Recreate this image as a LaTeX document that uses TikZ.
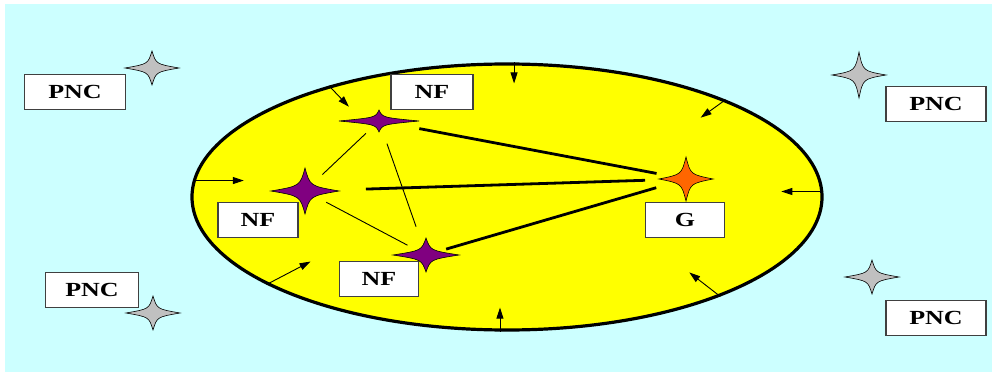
\documentclass[tikz,border=0pt]{standalone}
\usepackage{fontspec}
\usepackage{tikz}
\usepackage{xcolor}
\usetikzlibrary{positioning,shapes,shapes.geometric,arrows.meta}

\newfontfamily\boxfont{Liberation Serif}[FakeStretch=1.3]

\definecolor{cellbg}{RGB}{204,255,255}
\definecolor{cellyellow}{RGB}{255,255,0}
\definecolor{nfpurple}{RGB}{128,0,128}
\definecolor{gorange}{RGB}{255,102,0}
\definecolor{pncgray}{RGB}{192,192,192}

\tikzset{
  star4/.style={draw=black, line width=0.6pt},
  labelbox/.style={draw=black!75, fill=white, line width=1.2pt, shape=rectangle,
    inner sep=0pt, minimum height=35pt,
    font=\boxfont\bfseries\fontsize{20}{22}\selectfont},
  thickline/.style={line width=2.8pt},
  thinline/.style={line width=0.9pt},
  inarrow/.style={line width=0.9pt, -{Triangle[length=11pt,width=7pt]}}
}

% name, centre, half width, half height, waist, colour
\newcommand{\fourstar}[6]{%
  \coordinate (#1) at (#2);
  \begin{scope}[shift={(#2)}]
    \filldraw[star4, fill=#6] (#3,0) .. controls (#5,#5) .. (0,#4)
      .. controls (-#5,#5) .. (-#3,0) .. controls (-#5,-#5) .. (0,-#4)
      .. controls (#5,-#5) .. cycle;
  \end{scope}}

\begin{document}
\begin{tikzpicture}[x=1pt,y=-1pt]
\useasboundingbox (0,0) rectangle (992,374);
\fill[cellbg] (5,4) rectangle (992,372);

\node (cell) at (507,197) [draw, shape=ellipse, fill=cellyellow, line width=3.2pt,
  minimum width=630pt, minimum height=266pt, inner sep=0pt]{};

\draw node (pnc1) at (75,92) [labelbox, minimum width=101pt]{PNC};
\draw node (pnc2) at (936,104) [labelbox, minimum width=100pt]{PNC};
\draw node (pnc3) at (92,290) [labelbox, minimum width=93pt]{PNC};
\draw node (pnc4) at (936,318) [labelbox, minimum width=100pt]{PNC};

\draw node (nf1) at (432,92) [labelbox, minimum width=82pt]{NF};
\draw node (nf2) at (258,220) [labelbox, minimum width=80pt]{NF};
\draw node (nf3) at (379,279) [labelbox, minimum width=79pt]{NF};
\draw node (g) at (685,220) [labelbox, minimum width=79pt]{G};

\fourstar{s1}{379,121}{40}{11}{3.5}{nfpurple}
\fourstar{s2}{305,191}{34}{23}{5}{nfpurple}
\fourstar{s3}{426,255}{33}{17}{4.5}{nfpurple}
\fourstar{sg}{686,179}{27}{22}{4.5}{gorange}

\fourstar{p1}{152,68}{27}{17}{4}{pncgray}
\fourstar{p2}{859,75}{27}{23}{4}{pncgray}
\fourstar{p3}{153,313}{27}{17}{4}{pncgray}
\fourstar{p4}{872,277}{27}{17}{4}{pncgray}

\draw[thickline, shorten <=41pt, shorten >=30pt] (s1) -- (sg);
\draw[thickline, shorten <=61pt, shorten >=41pt] (s2) -- (sg);
\draw[thickline, shorten <=21pt, shorten >=31pt] (s3) -- (sg);
\draw[thinline, shorten <=18pt, shorten >=24pt] (s1) -- (s2);
\draw[thinline, shorten <=24pt, shorten >=30pt] (s1) -- (s3);
\draw[thinline, shorten <=24pt, shorten >=21pt] (s2) -- (s3);

\draw[inarrow] (cell.87) -- ++(0,21);
\draw[inarrow] (cell.148) -- ++(20,21);
\draw[inarrow] (cell.24) -- ++(-25,18);
\draw[inarrow] (cell.177) -- ++(51,0);
\draw[inarrow] (cell.1) -- ++(-42,0);
\draw[inarrow] (cell.200) -- ++(44,-23);
\draw[inarrow] (cell.267) -- ++(0,-24);
\draw[inarrow] (cell.335) -- ++(-31,-24);
\end{tikzpicture}
\end{document}
